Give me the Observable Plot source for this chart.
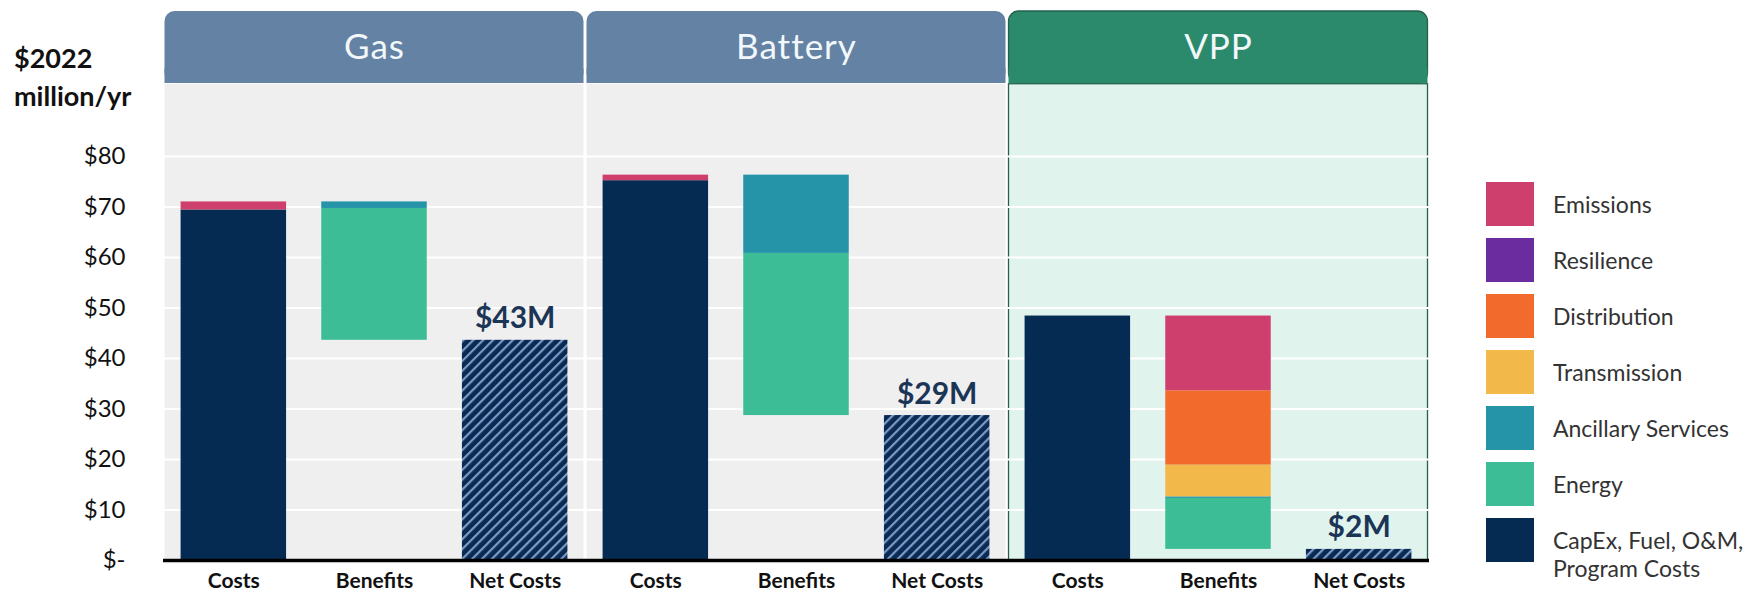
<!DOCTYPE html>
<html>
<head>
<meta charset="utf-8">
<script src="https://cdn.jsdelivr.net/npm/d3@7"></script>
<script src="https://cdn.jsdelivr.net/npm/@observablehq/plot@0.6"></script>
<style>
  body { margin: 0; background: #fff; font-family: Lato, "Open Sans", sans-serif; }
  #wrap { position: relative; width: 1755px; height: 600px; }
  #ytitle { position: absolute; left: 14px; top: 39px; font-weight: 700; font-size: 27px; line-height: 38px; color: #111; }
  #legend { position: absolute; left: 1486px; top: 182px; }
  .item { display: flex; align-items: flex-start; height: 56px; }
  .sw { width: 48px; height: 44px; flex: none; }
  .lab { margin-left: 19px; font-size: 23px; color: #333; line-height: 28px; padding-top: 8px; white-space: nowrap; }
  svg [aria-label="x-axis tick label"] text { font-weight: 700; }
  svg .hdr text { letter-spacing: 1px; }
</style>
</head>
<body>
<svg width="0" height="0" style="position:absolute">
  <defs>
    <pattern id="hatch" patternUnits="userSpaceOnUse" width="7" height="7" patternTransform="rotate(45)">
      <rect width="7" height="7" fill="#0b2a52"></rect>
      <rect x="0" width="2.2" height="7" fill="#7b9bcb"></rect>
    </pattern>
  </defs>
</svg>
<div id="wrap">
  <div id="ytitle">$2022<br>million/yr</div>
  <div id="chart"></div>
  <div id="legend"></div>
</div>
<script>
// ---- data ----
const groups = ["Gas", "Battery", "VPP"];
const columns = ["Costs", "Benefits", "Net Costs"];
const components = ["Emissions", "Resilience", "Distribution", "Transmission", "Ancillary Services", "Energy", "CapEx, Fuel, O&M, Program Costs"];
const componentColors = ["#cf3f6e", "#6a2c9e", "#f26a2c", "#f3b84a", "#2593a8", "#3dbd96", "#062b52"];
const costCapex = [69.4, 75.2, 48.4];
const costEmissions = [1.6, 1.1, 0];
const benEnergy = [26.1, 32.1, 10.1];
const benAncillary = [1.3, 15.5, 0.3];
const benTransmission = [0, 0, 6.3];
const benDistribution = [0, 0, 14.7];
const benResilience = [0, 0, 0];
const benEmissions = [0, 0, 14.8];
const netLabels = ["$43M", "$29M", "$2M"];
const yTicks = [0, 10, 20, 30, 40, 50, 60, 70, 80];
const panelFills = ["#efefef", "#efefef", "#e0f4ed"];
const headerFills = ["#6482a3", "#6482a3", "#2a8a6b"];

// ---- build tables ----
const Y_TOP = 108.7, BODY_TOP = 94.3;
const bars = [], nets = [];
groups.forEach((g, gi) => {
  const base = gi * 3;
  let y = 0;
  [["CapEx, Fuel, O&M, Program Costs", costCapex[gi]], ["Emissions", costEmissions[gi]]].forEach(([c, v]) => {
    if (v > 0) bars.push({x1: base + 0.125, x2: base + 0.875, y1: y, y2: y + v, comp: c});
    y += v;
  });
  const total = y;
  const bens = [["Energy", benEnergy[gi]], ["Ancillary Services", benAncillary[gi]], ["Transmission", benTransmission[gi]],
                ["Distribution", benDistribution[gi]], ["Resilience", benResilience[gi]], ["Emissions", benEmissions[gi]]];
  const benTotal = d3.sum(bens, d => d[1]);
  const net = total - benTotal;
  let yb = net;
  bens.forEach(([c, v]) => {
    if (v > 0) bars.push({x1: base + 1.125, x2: base + 1.875, y1: yb, y2: yb + v, comp: c});
    yb += v;
  });
  nets.push({x1: base + 2.125, x2: base + 2.875, xc: base + 2.5, net, label: netLabels[gi]});
});

const panelMarks = groups.flatMap((g, gi) => {
  const p = [{x1: gi * 3, x2: gi * 3 + 3}];
  return [
    Plot.rect(p, {x1: "x1", x2: "x2", y1: 0, y2: BODY_TOP, fill: panelFills[gi],
      stroke: gi === 2 ? "#24604c" : "none", strokeWidth: 1.3, insetLeft: 1.5, insetRight: 1.5}),
    Plot.rect(p, {x1: "x1", x2: "x2", y1: BODY_TOP + 0.15, y2: Y_TOP, fill: headerFills[gi],
      stroke: gi === 2 ? "#24604c" : "none", strokeWidth: 1.3, rx: 10, insetLeft: 1.5, insetRight: 1.5}),
    Plot.rect(p, {x1: "x1", x2: "x2", y1: BODY_TOP + 0.15, y2: BODY_TOP + 3, fill: headerFills[gi],
      insetLeft: 1.5, insetRight: 1.5})
  ];
});

const chart = Plot.plot({
  width: 1755, height: 600,
  marginLeft: 163, marginRight: 326, marginTop: 11, marginBottom: 40,
  x: {domain: [0, 9], axis: null},
  y: {domain: [0, Y_TOP], axis: null},
  color: {domain: components, range: componentColors},
  style: {fontFamily: "Lato, 'Open Sans', sans-serif", background: "transparent", color: "#111"},
  marks: [
    ...panelMarks,
    Plot.ruleY(yTicks.filter(d => d > 0), {stroke: "white", strokeWidth: 2}),
    Plot.text(groups, {x: (d, i) => 3 * i + 1.5, y: (BODY_TOP + Y_TOP) / 2, text: d => d, fill: "#f2f7fb", fontSize: 35, className: "hdr"}),
    Plot.rect(bars, {x1: "x1", x2: "x2", y1: "y1", y2: "y2", fill: "comp"}),
    Plot.rect(nets, {x1: "x1", x2: "x2", y1: 0, y2: "net", fill: "url(#hatch)"}),
    Plot.text(nets, {x: "xc", y: "net", text: "label", lineAnchor: "bottom", dy: -12, fontSize: 30, fontWeight: 700, fill: "#1b3556"}),
    Plot.ruleY([0], {stroke: "#000", strokeWidth: 3.5}),
    Plot.axisY(yTicks, {anchor: "left", tickSize: 0, tickPadding: 38, fontSize: 24, label: null,
      tickFormat: d => d === 0 ? "$-" : "$" + d}),
    Plot.axisX(d3.range(9).map(i => i + 0.5), {anchor: "bottom", tickSize: 0, tickPadding: 13, fontSize: 21, fontWeight: 700, label: null,
      tickFormat: v => columns[Math.floor(v) % 3]})
  ]
});
document.getElementById("chart").appendChild(chart);

// legend
const legend = document.getElementById("legend");
components.forEach((c, i) => {
  const item = document.createElement("div");
  item.className = "item";
  const sw = document.createElement("div");
  sw.className = "sw";
  sw.style.background = componentColors[i];
  const lab = document.createElement("div");
  lab.className = "lab";
  lab.innerHTML = c === "CapEx, Fuel, O&M, Program Costs" ? "CapEx, Fuel, O&amp;M,<br>Program Costs" : c;
  item.appendChild(sw); item.appendChild(lab);
  legend.appendChild(item);
});
</script>
</body>
</html>
